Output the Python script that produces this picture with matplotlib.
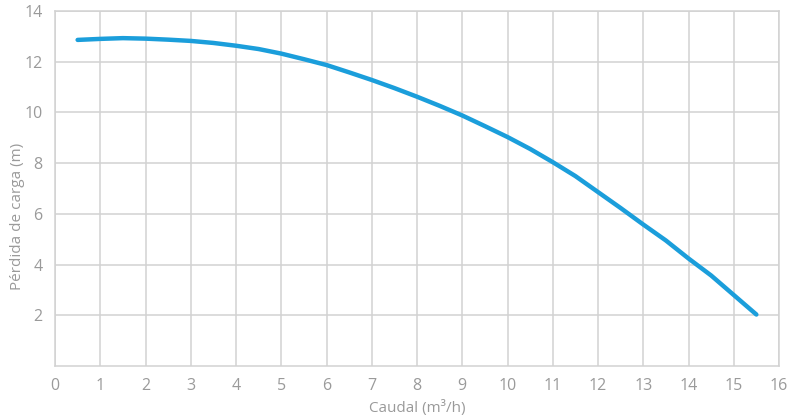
import numpy as np
import matplotlib.pyplot as plt

plt.rcParams['font.family'] = ['Open Sans', 'DejaVu Sans']

# curva de la bomba
caudal = [0.5, 1.0, 1.5, 2.0, 2.5, 3.0, 3.5, 4.0, 4.5, 5.0, 5.5, 6.0, 6.5, 7.0, 7.5, 8.0,
          8.5, 9.0, 9.5, 10.0, 10.5, 11.0, 11.5, 12.0, 12.5, 13.0, 13.5, 14.0, 14.5, 15.0, 15.5]
perdida = [12.86, 12.9, 12.93, 12.91, 12.87, 12.82, 12.74, 12.63, 12.5, 12.32, 12.1, 11.87,
           11.58, 11.28, 10.96, 10.62, 10.26, 9.88, 9.46, 9.03, 8.56, 8.04, 7.49, 6.86,
           6.23, 5.58, 4.95, 4.24, 3.57, 2.8, 2.03]

xticks = list(range(0, 17))
yticks = [2, 4, 6, 8, 10, 12, 14]

gris = '#9a9a9a'
rejilla = '#d2d2d2'

fig = plt.figure(figsize=(7.88, 4.18), dpi=100)
ax = fig.add_axes([55 / 788, 1 - 366 / 418, (779 - 55) / 788, (366 - 11) / 418])

ax.plot(caudal, perdida, color='#1b9edb', linewidth=3.2, solid_capstyle='round', zorder=3)

ax.set_xlim(0, 16)
ax.set_ylim(0, 14)
ax.set_xticks(xticks)
ax.set_yticks(yticks)
ax.grid(True, color=rejilla, linewidth=1.1)
ax.set_axisbelow(True)
for s in ax.spines.values():
    s.set_color(rejilla)
    s.set_linewidth(1.1)
ax.tick_params(length=0, colors=gris, labelsize=11.5)
ax.tick_params(axis='x', pad=9)
ax.tick_params(axis='y', pad=9)

fig.text(417 / 788, 1 - 408 / 418, 'Caudal (m³/h)', color=gris, fontsize=11,
         ha='center', va='center')
fig.text(18 / 788, 1 - 216 / 418, 'Pérdida de carga (m)', color=gris, fontsize=11,
         ha='center', va='center', rotation=90)

plt.savefig('out.png', dpi=100)
